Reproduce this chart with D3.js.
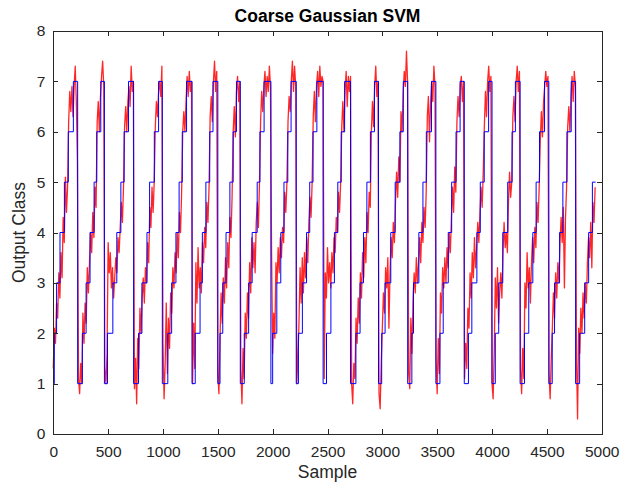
<!DOCTYPE html>
<html lang="en">
<head>
<meta charset="UTF-8">
<title>Coarse Gaussian SVM</title>
<style>
    body { margin:0; background:#fff; }
    .axis path, .axis line {
        fill:none;
        stroke:#262626;
        shape-rendering:crispEdges;
    }
    .axis text {
        font-family:"Liberation Sans", Arial, sans-serif;
        font-size:15.5px;
        fill:#262626;
    }
    .label {
        font-family:"Liberation Sans", Arial, sans-serif;
        font-size:17.5px;
        fill:#262626;
    }
</style>
</head>
<body>
<script src="https://cdnjs.cloudflare.com/ajax/libs/d3/7.8.5/d3.min.js"></script>
<script>
    var classTicks = [0,1,2,3,4,5,6,7,8];
    var sampleTicks = [0,500,1000,1500,2000,2500,3000,3500,4000,4500,5000];

    // true class: sample where each class 1..7 starts, one row per cycle
    var stepStarts = [
        [0,9,30,61,101,137,183],
        [222,265,299,335,372,396,433],
        [466,494,543,579,616,646,686],
        [732,777,808,854,878,921,960],
        [994,1044,1079,1118,1147,1176,1215],
        [1265,1294,1338,1359,1391,1426,1456],
        [1500,1520,1545,1575,1610,1640,1670],
        [1705,1741,1781,1813,1859,1884,1922],
        [1984,2000,2038,2074,2103,2138,2168],
        [2215,2235,2271,2309,2338,2368,2403],
        [2460,2491,2531,2563,2594,2625,2656],
        [2710,2759,2797,2828,2859,2891,2928],
        [2965,2994,3025,3077,3117,3160,3191],
        [3231,3269,3284,3333,3370,3401,3448],
        [3488,3525,3555,3601,3632,3672,3709],
        [3747,3785,3816,3862,3893,3929,3969],
        [4000,4030,4061,4098,4143,4183,4213],
        [4256,4296,4335,4372,4402,4433,4479],
        [4518,4549,4570,4616,4646,4683,4722],
        [4762,4799,4845,4881,4915]
    ];
    var stepEnd = 4945;

    // predicted output, one row per cycle, one value every predStep samples
    var predStep = 10;
    var predStart = [0,230,470,740,1000,1270,1500,1710,1990,2220,2470,2720,2970,3240,3490,3750,4000,4260,4520,4770];
    var predicted = [
        [1.3,2.1,1.8,2.6,2.3,3.2,2.7,3.6,3.1,4.3,3.8,5.1,4.4,4.9,6.2,6.8,6.4,6.9,6.3,6.9,7.3,6.6,5.4],
        [1.1,0.8,1.4,1.0,2.4,1.8,2.6,2.2,3.3,2.8,3.4,4.0,3.6,4.4,3.9,4.9,4.5,6.2,6.6,6.0,6.7,7.1,7.4,6.9],
        [1.3,1.0,1.6,3.8,3.2,3.6,2.9,3.3,2.7,3.1,3.5,3.2,3.9,3.6,4.1,4.6,4.2,4.9,6.1,6.5,6.0,6.6,6.9,6.5,7.3,6.8,7.0],
        [0.9,1.5,0.6,1.9,1.3,2.5,2.0,2.7,3.1,2.6,3.3,3.0,3.8,3.4,4.5,4.1,4.9,4.4,5.0,6.1,6.6,6.3,6.8,7.0,6.7,7.3],
        [1.8,0.7,1.4,2.6,1.2,2.3,1.7,2.8,2.4,3.3,2.9,3.6,3.2,4.0,3.5,4.4,4.0,4.8,6.0,6.4,6.0,6.6,7.1,6.7,7.2,6.8,7.0],
        [1.0,2.2,1.3,3.4,2.6,3.7,2.9,3.3,2.8,3.8,3.4,4.1,3.7,4.6,4.2,4.9,6.3,6.7,6.2,7.0,7.4,6.8,7.2],
        [1.2,0.8,1.9,2.8,2.2,3.1,2.6,3.5,2.9,3.8,3.3,4.3,3.9,4.7,6.0,6.5,5.9,6.8,7.1,6.6,7.0],
        [1.3,0.6,1.7,1.1,2.4,1.9,2.8,2.3,3.4,2.8,3.9,3.3,3.8,3.2,4.2,4.6,4.1,5.0,6.2,6.8,6.4,6.9,7.2,6.7,7.1,6.8,7.3,6.9],
        [3.6,1.6,2.4,1.9,3.4,3.0,3.7,3.2,3.9,3.5,4.1,3.8,4.8,4.4,5.0,6.2,6.7,6.4,7.0,7.4,6.8,7.3,6.9],
        [1.0,1.5,2.2,3.3,2.6,3.5,2.8,3.6,3.1,3.9,3.4,4.2,4.7,4.3,5.0,6.3,6.8,6.2,6.9,7.2,6.7,7.3,6.9,7.1,7.0],
        [1.1,3.2,2.7,3.7,3.0,3.4,2.9,3.6,3.2,3.9,3.6,4.3,4.0,4.8,4.4,5.0,6.1,6.6,6.0,6.8,7.2,6.5,7.1,6.8,7.1],
        [1.0,0.6,1.4,1.1,2.3,1.8,2.7,2.2,3.2,2.7,3.6,3.1,3.9,3.4,4.4,4.0,4.8,4.5,6.0,6.6,6.1,6.9,7.3,6.7,7.0],
        [0.8,0.5,1.4,2.1,2.8,2.4,3.3,2.9,3.5,2.1,3.2,3.9,3.5,4.2,3.8,4.6,5.2,4.7,5.5,5.0,6.4,6.0,6.8,7.2,6.9,7.6,7.0],
        [1.2,0.9,2.3,1.6,2.7,3.2,2.8,3.5,3.0,3.4,3.9,3.4,4.2,3.8,4.5,4.1,4.8,6.3,6.7,5.8,6.6,7.0,6.6,7.3,6.9],
        [1.5,0.8,1.9,1.2,2.8,2.4,3.3,2.9,3.5,3.0,3.7,3.3,4.0,3.6,4.3,4.9,4.4,5.3,4.8,6.2,6.7,6.3,6.9,7.1,6.6,7.0],
        [1.1,1.8,1.3,2.5,2.1,3.2,2.7,3.6,3.1,3.9,3.3,3.7,4.2,3.8,4.4,4.9,4.5,5.2,6.1,6.8,6.3,7.0,7.3,6.8,7.1],
        [1.0,0.7,1.6,3.1,2.5,3.3,2.2,2.8,3.2,2.7,3.6,4.2,3.7,4.0,3.6,4.6,5.2,4.7,5.0,6.3,6.7,6.2,7.0,7.3,6.8,7.2],
        [1.3,0.8,1.7,1.1,3.0,2.5,3.6,2.9,3.3,2.6,3.4,3.9,3.4,4.1,3.7,4.6,4.2,4.9,5.8,6.4,5.9,6.6,6.9,7.2,6.9,7.1],
        [1.2,0.7,1.5,2.1,2.8,2.3,3.2,2.7,3.4,3.0,3.8,4.3,3.8,4.5,2.9,4.3,4.9,6.1,6.5,6.0,6.7,7.1,6.6,7.2,6.9],
        [1.5,0.3,2.1,1.6,2.5,2.0,2.8,2.3,3.0,2.6,3.4,3.9,3.5,4.2,3.3,4.6,4.2,4.9]
    ];

    var w = 634, h = 488;
    var padL = 53.3, padR = 601.7, padT = 31, padB = 434;

    var svg = d3.select("body").append("svg").attr("width",w).attr("height",h);

    var xScale = d3.scaleLinear().domain([0,5000]).range([padL,padR]);
    var yScale = d3.scaleLinear().domain([0,8]).range([padB,padT]);

    // build point lists
    var truePts = [];
    stepStarts.forEach(function (row) {
        row.forEach(function (s, k) { truePts.push([s, k + 1]); });
    });
    truePts.push([stepEnd, stepStarts[stepStarts.length-1].length]);

    var predPts = [];
    predicted.forEach(function (row, i) {
        row.forEach(function (v, j) { predPts.push([predStart[i] + j*predStep, v]); });
    });

    var line = d3.line()
        .x(function (d) { return xScale(d[0]); })
        .y(function (d) { return yScale(d[1]); });

    var stepLine = d3.line()
        .curve(d3.curveStepAfter)
        .x(function (d) { return xScale(d[0]); })
        .y(function (d) { return yScale(d[1]); });

    svg.append("path")
        .datum(predPts)
        .attr("d", line)
        .attr("fill","none")
        .attr("stroke","#ff0000")
        .attr("stroke-opacity",0.85)
        .attr("stroke-width",1.3)
        .attr("stroke-linejoin","round");

    svg.append("path")
        .datum(truePts)
        .attr("d", stepLine)
        .attr("fill","none")
        .attr("stroke","#0000ff")
        .attr("stroke-width",1);

    // axes, ticks pointing inward on all four sides
    var fmt = d3.format("d");
    var xAxis = d3.axisBottom(xScale).tickValues(sampleTicks).tickFormat(fmt).tickSizeInner(-5).tickSizeOuter(0).tickPadding(12);
    var yAxis = d3.axisLeft(yScale).tickValues(classTicks).tickFormat(fmt).tickSizeInner(-5).tickSizeOuter(0).tickPadding(8);
    var xTop = d3.axisTop(xScale).tickValues(sampleTicks).tickSizeInner(-5).tickSizeOuter(0).tickFormat("");
    var yRight = d3.axisRight(yScale).tickValues(classTicks).tickSizeInner(-5).tickSizeOuter(0).tickFormat("");

    svg.append("g").attr("class","axis").attr("transform","translate(0,"+padB+")").call(xAxis);
    svg.append("g").attr("class","axis").attr("transform","translate("+padL+",0)").call(yAxis);
    svg.append("g").attr("class","axis").attr("transform","translate(0,"+padT+")").call(xTop);
    svg.append("g").attr("class","axis").attr("transform","translate("+padR+",0)").call(yRight);

    svg.append("text")
        .attr("x",(padL+padR)/2).attr("y",22)
        .attr("text-anchor","middle")
        .attr("font-family","'Liberation Sans', Arial, sans-serif")
        .attr("font-size","17.5px").attr("font-weight","bold").attr("fill","#000")
        .text("Coarse Gaussian SVM");

    svg.append("text").attr("class","label")
        .attr("x",(padL+padR)/2).attr("y",478)
        .attr("text-anchor","middle")
        .text("Sample");

    svg.append("text").attr("class","label")
        .attr("transform","translate(25,"+((padT+padB)/2)+") rotate(-90)")
        .attr("text-anchor","middle")
        .text("Output Class");
</script>
</body>
</html>
